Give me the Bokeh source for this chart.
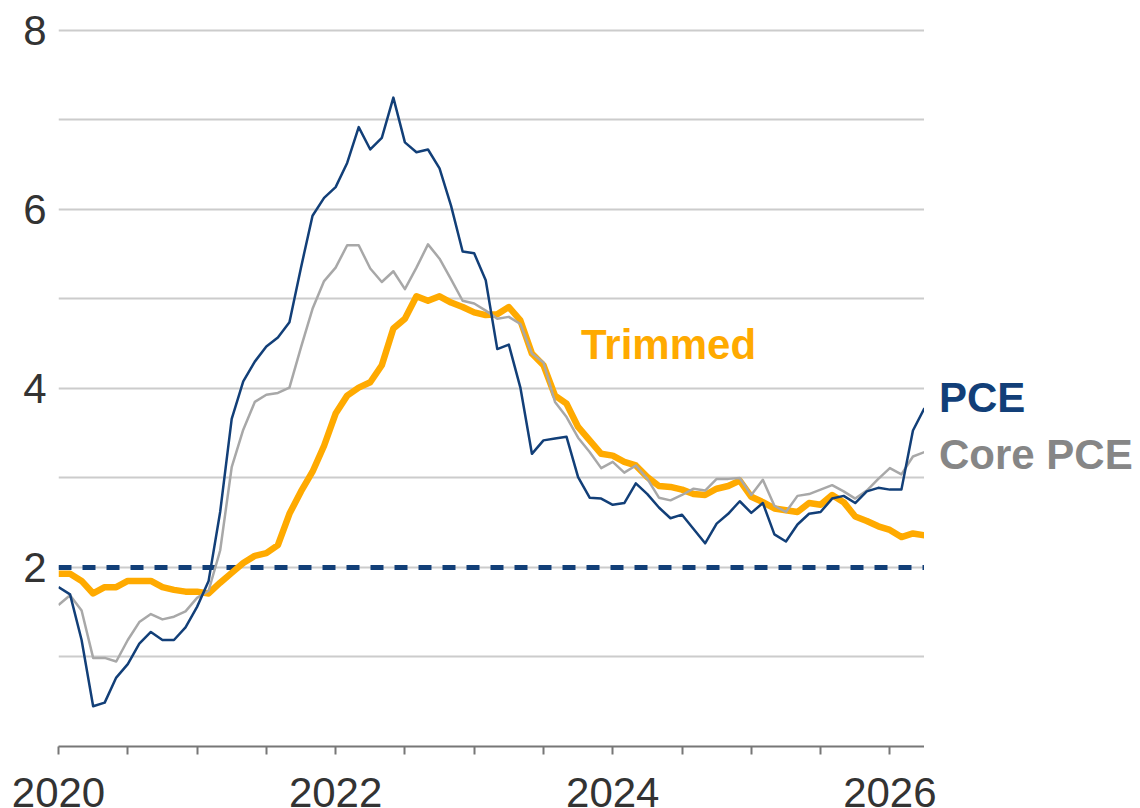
import pandas as pd
from bokeh.plotting import figure
from bokeh.models import Range1d, FixedTicker, Span
from bokeh.layouts import row, column
from bokeh.core.properties import value
from bokeh.embed import file_html
from bokeh.resources import INLINE

# ---------------- data (monthly, Jan 2020 - Apr 2026) ----------------
months = pd.date_range("2020-01-01", periods=76, freq="MS")

pce = [1.78, 1.70, 1.19, 0.45, 0.49, 0.77, 0.92, 1.15, 1.28, 1.19, 1.19, 1.33,
       1.56, 1.85, 2.62, 3.66, 4.08, 4.30, 4.47, 4.57, 4.74, 5.35, 5.93, 6.13,
       6.25, 6.52, 6.92, 6.67, 6.80, 7.25, 6.75, 6.64, 6.67, 6.46, 6.04, 5.53,
       5.51, 5.21, 4.44, 4.49, 4.01, 3.27, 3.42, 3.44, 3.46, 3.01, 2.78, 2.77,
       2.70, 2.72, 2.94, 2.82, 2.67, 2.55, 2.59, 2.43, 2.27, 2.49, 2.60, 2.74,
       2.61, 2.72, 2.37, 2.29, 2.48, 2.60, 2.62, 2.77, 2.80, 2.72, 2.85, 2.89,
       2.87, 2.87, 3.53, 3.78]

core_pce = [1.58, 1.69, 1.52, 0.99, 0.99, 0.95, 1.19, 1.39, 1.48, 1.42, 1.45, 1.51,
            1.66, 1.74, 2.19, 3.12, 3.54, 3.85, 3.93, 3.95, 4.01, 4.46, 4.89, 5.20,
            5.35, 5.60, 5.60, 5.34, 5.19, 5.31, 5.11, 5.35, 5.61, 5.45, 5.22, 4.98,
            4.95, 4.87, 4.78, 4.80, 4.72, 4.39, 4.29, 3.85, 3.68, 3.45, 3.29, 3.11,
            3.18, 3.06, 3.14, 2.99, 2.78, 2.75, 2.81, 2.88, 2.86, 2.99, 2.99, 3.00,
            2.81, 2.98, 2.69, 2.62, 2.80, 2.82, 2.87, 2.92, 2.85, 2.77, 2.86, 2.99,
            3.11, 3.04, 3.24, 3.29]

trimmed = [1.93, 1.93, 1.85, 1.71, 1.78, 1.78, 1.85, 1.85, 1.85, 1.78, 1.75, 1.73,
           1.73, 1.71, 1.83, 1.94, 2.05, 2.13, 2.16, 2.25, 2.60, 2.85, 3.07, 3.36,
           3.72, 3.92, 4.01, 4.07, 4.26, 4.67, 4.78, 5.03, 4.98, 5.03, 4.96, 4.91,
           4.85, 4.82, 4.83, 4.91, 4.76, 4.39, 4.26, 3.92, 3.83, 3.57, 3.42, 3.27,
           3.25, 3.18, 3.14, 3.01, 2.91, 2.90, 2.87, 2.82, 2.81, 2.88, 2.91, 2.97,
           2.79, 2.73, 2.66, 2.64, 2.62, 2.72, 2.70, 2.81, 2.73, 2.57, 2.52, 2.46,
           2.42, 2.34, 2.38, 2.36]

target = 2.0
year_labels = [2020, 2022, 2024, 2026]
half_year_ticks = [2020, 2020.5, 2021, 2021.5, 2022, 2022.5, 2023, 2023.5,
                   2024, 2024.5, 2025, 2025.5, 2026]
y_label_ticks = [2, 4, 6, 8]
y_grid_ticks = [1, 2, 3, 4, 5, 6, 7, 8]
series_names = ["Trimmed", "PCE", "Core PCE"]

# fractional year positions of the months
xs = [m.year + (m.month - 1) / 12 for m in months]

# ---------------- styling ----------------
NAVY = "#123f78"
ORANGE = "#ffaa00"
GRAY_LINE = "#a8a8a8"
GRAY_TEXT = "#868686"
TEXT = "#333333"
FONT = "Liberation Sans"

X0, X1 = 2020, 2026.25
PX_PER_YEAR = 866 / (X1 - X0)

# ---- main chart ----
p = figure(width=924, height=756,
           x_range=Range1d(X0, X1), y_range=Range1d(0, 8.1),
           output_backend="svg", toolbar_location=None,
           min_border_left=58, min_border_right=0,
           min_border_top=21, min_border_bottom=10)
p.outline_line_color = None

p.xgrid.visible = False
p.ygrid[0].ticker = FixedTicker(ticks=y_grid_ticks)
p.ygrid.grid_line_color = "#cccccc"
p.ygrid.grid_line_width = 2

p.yaxis.ticker = FixedTicker(ticks=y_label_ticks)
p.yaxis.axis_line_color = None
p.yaxis.major_tick_line_color = None
p.yaxis.minor_tick_line_color = None
p.yaxis.major_tick_out = 0
p.yaxis.major_tick_in = 0
p.yaxis.major_label_standoff = 12
p.yaxis.major_label_text_font = FONT
p.yaxis.major_label_text_font_size = "42px"
p.yaxis.major_label_text_color = TEXT

# x axis: half-year tick marks only (labels are drawn in the strip below)
p.xaxis.ticker = FixedTicker(ticks=[], minor_ticks=half_year_ticks)
p.xaxis.axis_line_color = "#777777"
p.xaxis.axis_line_width = 2
p.xaxis.minor_tick_line_color = "#777777"
p.xaxis.minor_tick_line_width = 2
p.xaxis.minor_tick_out = 8
p.xaxis.minor_tick_in = 0
p.xaxis.major_tick_out = 8
p.xaxis.major_tick_in = 0
p.xaxis.major_label_standoff = 0

p.add_layout(Span(location=target, dimension="width", line_color=NAVY,
                  line_width=5, line_dash="13 11", level="underlay"))

p.line(xs, trimmed, line_color=ORANGE, line_width=6.5, line_join="round")
p.line(xs, core_pce, line_color=GRAY_LINE, line_width=2.5, line_join="round")
p.line(xs, pce, line_color=NAVY, line_width=2.5, line_join="round")

p.text(x=[2023.771], y=[4.494], text=[series_names[0]],
       text_font=value(FONT), text_font_style="bold", text_font_size="42px",
       text_color=ORANGE, text_baseline="middle", text_align="left")

# ---- right strip: end labels (same y scale as the chart) ----
side = figure(width=216, height=756,
              x_range=Range1d(0, 216), y_range=p.y_range,
              output_backend="svg", toolbar_location=None,
              x_axis_location=None, y_axis_location=None,
              min_border_left=0, min_border_right=0,
              min_border_top=21, min_border_bottom=10)
side.outline_line_color = None
side.grid.visible = False
side.text(x=[14.5, 14.5], y=[3.899, 3.265], text=series_names[1:],
          text_font=value(FONT), text_font_style="bold", text_font_size="42px",
          text_color=[NAVY, GRAY_TEXT], text_baseline="middle",
          text_align="left")

# ---- bottom strip: year labels (same x scale as the chart) ----
bottom = figure(width=1140, height=52,
                x_range=Range1d(X0 - 58 / PX_PER_YEAR, X0 + (1140 - 58) / PX_PER_YEAR),
                y_range=Range1d(0, 52),
                output_backend="svg", toolbar_location=None,
                x_axis_location=None, y_axis_location=None,
                min_border_left=0, min_border_right=0,
                min_border_top=0, min_border_bottom=0)
bottom.outline_line_color = None
bottom.grid.visible = False
bottom.text(x=year_labels, y=[16.5] * len(year_labels), text=[str(y) for y in year_labels],
            text_font=value(FONT), text_font_size="42px", text_color=TEXT,
            text_baseline="middle", text_align="center")

layout = column(row(p, side), bottom)
open("out.html", "w").write(file_html(layout, INLINE))
